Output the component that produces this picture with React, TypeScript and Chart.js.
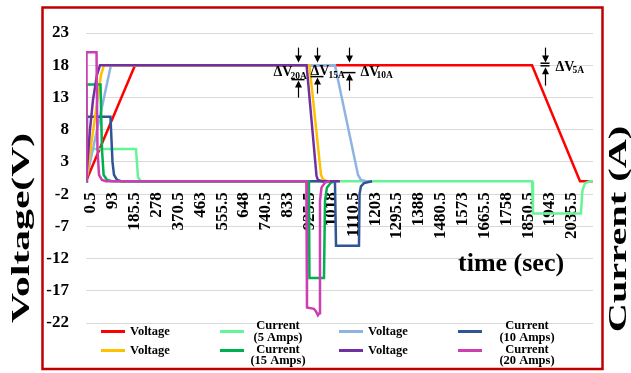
import React, { useEffect, useRef } from "react";
import { Chart, registerables } from "chart.js";

Chart.register(...registerables);

const FONT = "'Liberation Serif', 'Times New Roman', serif";

// ---- axis ticks ----
const xTickValues = [0.5, 93, 185.5, 278, 370.5, 463, 555.5, 648, 740.5, 833, 925.5, 1018, 1110.5, 1203, 1295.5, 1388, 1480.5, 1573, 1665.5, 1758, 1850.5, 1943, 2035.5];
const yTickValues = [23, 18, 13, 8, 3, -2, -7, -12, -17, -22];
const xMin = 0.5;
const xMax = 2146;
const yMin = -22;
const yMax = 23;

// ---- series (time in sec, value) ----
// 5 A test
const voltage5Time = [0.5, 208, 1888, 2091, 2146];
const voltage5Val = [0, 18, 18, 0, 0];
const current5Time = [0.5, 21.7, 212, 220.5, 233, 1888, 1892, 2095, 2101, 2112, 2133, 2146];
const current5Val = [0, 5, 5, 0.6, 0, 0, -5, -5, -1.5, -0.3, 0, 0];
// 10 A test
const voltage10Time = [0.5, 106, 1054, 1151.5, 1164, 1185, 1211];
const voltage10Val = [0, 18, 18, 1, 0.2, 0, 0];
const current10Time = [0.5, 4.7, 104, 112.6, 119, 132, 149, 1054, 1058.5, 1155.7, 1158, 1164, 1177, 1211];
const current10Val = [0, 10, 10, 3, 1, 0.2, 0, 0, -10, -10, -2, -0.8, -0.3, 0];
// 15 A test
const voltage15Time = [0.5, 64, 76.7, 946, 995, 1003.5, 1020.5, 1037.5];
const voltage15Val = [0, 16.5, 18, 18, 1, 0.3, 0, 0];
const current15Time = [0.5, 2.6, 62, 68, 75, 89.4, 110.5, 944, 946, 1007.6, 1012, 1020, 1037, 1058];
const current15Val = [0, 15, 15, 5, 1, 0.2, 0, 0, -15, -15, -3, -1, -0.2, 0];
// 20 A test
const voltage20Time = [0.5, 17.4, 30.1, 47, 59.7, 934, 976, 982, 999, 1075];
const voltage20Val = [0, 8, 12.6, 16.5, 18, 18, 0.8, 0.2, 0, 0];
const current20Time = [0.5, 2.6, 45, 49, 55.5, 68, 85, 933, 935.7, 965, 974, 982, 988, 990.7, 997, 1012, 1033];
const current20Val = [0, 20, 20, 5, 1, 0.2, 0, 0, -19.6, -19.8, -20.2, -20.8, -20.5, -3, -1, -0.2, 0];

// ---- legend labels ----
const legendLabels = [
  ["Voltage"],
  ["Current", "(5 Amps)"],
  ["Voltage"],
  ["Current", "(10 Amps)"],
  ["Voltage"],
  ["Current", "(15 Amps)"],
  ["Voltage"],
  ["Current", "(20 Amps)"],
];

// ---- titles ----
const xTitle = "time (sec)";
const yTitle = "Voltage(V)";
const y2Title = "Current (A)";

// ---- ΔV annotations ----
const annTimes = [897.6, 978, 1113.4, 1942.7];
const annLevel = 18;
const annSubs = ["20A", "15A", "10A", "5A"];

// ---- styles ----
const seriesColors = ["#ff0000", "#66f596", "#8eb4e3", "#2f5597", "#ffc000", "#00b050", "#7030a0", "#cc3fb2"];
const seriesTimes = [voltage5Time, current5Time, voltage10Time, current10Time, voltage15Time, current15Time, voltage20Time, current20Time];
const seriesVals = [voltage5Val, current5Val, voltage10Val, current10Val, voltage15Val, current15Val, voltage20Val, current20Val];

const legendCols = [
  { lineX: 101, textX: 130, align: "left" },
  { lineX: 220, textX: 278, align: "center" },
  { lineX: 339, textX: 368, align: "left" },
  { lineX: 458, textX: 527, align: "center" },
];
const legendRows = [
  { y: 331.5, l1: 326, l2: 337.5 },
  { y: 350.5, l1: 350, l2: 361 },
];

const annStyles = [
  { upBottom: 32.4, upTip: 15.4, bars: [14.4], barL: -7, barR: 6, textDx: -25, textDy: 7.4, subDx: -8, subDy: 11.4 },
  { upBottom: 28.4, upTip: 12.4, bars: [11.4], barL: -7, barR: 6, textDx: -7, textDy: 6.5, subDx: 11, subDy: 10 },
  { upBottom: 25.4, upTip: 8.4, bars: [7.4], barL: -7, barR: 6, textDx: 11, textDy: 7, subDx: 27, subDy: 10.4 },
  { upBottom: 20.4, upTip: 2, bars: [-2, 0.6], barL: -5, barR: 4, textDx: 10, textDy: 2, subDx: 27, subDy: 5.4 },
];

function drawArrow(ctx: CanvasRenderingContext2D, x: number, yFrom: number, yTo: number) {
  const dir = Math.sign(yTo - yFrom);
  ctx.beginPath();
  ctx.moveTo(x, yFrom);
  ctx.lineTo(x, yTo - dir * 5);
  ctx.stroke();
  ctx.beginPath();
  ctx.moveTo(x, yTo);
  ctx.lineTo(x - 3.5, yTo - dir * 7);
  ctx.lineTo(x + 3.5, yTo - dir * 7);
  ctx.closePath();
  ctx.fill();
}

function drawVerticalTitle(ctx: CanvasRenderingContext2D, text: string, cx: number, cy: number, stretch: number) {
  ctx.save();
  ctx.translate(cx, cy);
  ctx.rotate(-Math.PI / 2);
  ctx.scale(stretch, 1);
  ctx.textAlign = "center";
  ctx.textBaseline = "middle";
  ctx.fillText(text, 0, 0);
  ctx.restore();
}

const decorPlugin = {
  id: "decor",
  beforeDraw(chart: any) {
    const ctx = chart.ctx;
    ctx.save();
    ctx.fillStyle = "#ffffff";
    ctx.fillRect(0, 0, chart.width, chart.height);
    ctx.restore();
  },
  afterDatasetsDraw(chart: any) {
    const ctx: CanvasRenderingContext2D = chart.ctx;
    const xs = chart.scales.x;
    const ys = chart.scales.y;
    const py = ys.getPixelForValue(annLevel);
    ctx.save();
    ctx.strokeStyle = "#000";
    ctx.fillStyle = "#000";
    ctx.lineWidth = 1.2;
    annTimes.forEach((t, i) => {
      const st = annStyles[i];
      const px = Math.round(xs.getPixelForValue(t)) + 0.5;
      drawArrow(ctx, px, py - 17.6, py - 2.6);
      drawArrow(ctx, px, py + st.upBottom, py + st.upTip);
      ctx.lineWidth = 1.5;
      st.bars.forEach((b) => {
        ctx.beginPath();
        ctx.moveTo(px + st.barL, py + b);
        ctx.lineTo(px + st.barR, py + b);
        ctx.stroke();
      });
      ctx.lineWidth = 1.2;
      ctx.textAlign = "left";
      ctx.textBaseline = "middle";
      ctx.font = `bold 14px ${FONT}`;
      ctx.fillText("\u0394V", px + st.textDx, py + st.textDy);
      ctx.font = `bold 9.5px ${FONT}`;
      ctx.fillText(annSubs[i], px + st.subDx, py + st.subDy);
    });
    ctx.restore();
  },
  afterDraw(chart: any) {
    const ctx: CanvasRenderingContext2D = chart.ctx;
    ctx.save();
    // legend
    legendLabels.forEach((lab, i) => {
      const col = legendCols[i % 4];
      const row = legendRows[Math.floor(i / 4)];
      ctx.strokeStyle = seriesColors[i];
      ctx.lineWidth = 3;
      ctx.beginPath();
      ctx.moveTo(col.lineX, row.y);
      ctx.lineTo(col.lineX + 24, row.y);
      ctx.stroke();
      ctx.fillStyle = "#000";
      ctx.font = `bold 12.5px ${FONT}`;
      ctx.textBaseline = "middle";
      ctx.textAlign = col.align as CanvasTextAlign;
      if (lab.length === 1) {
        ctx.fillText(lab[0], col.textX, row.y);
      } else {
        ctx.fillText(lab[0], col.textX, row.l1);
        ctx.fillText(lab[1], col.textX, row.l2);
      }
    });
    // titles
    ctx.fillStyle = "#000";
    ctx.font = `bold 26px ${FONT}`;
    ctx.textAlign = "left";
    ctx.textBaseline = "middle";
    ctx.fillText(xTitle, 458, 264);
    drawVerticalTitle(ctx, yTitle, 22, 228, 1.6);
    drawVerticalTitle(ctx, y2Title, 619, 229, 1.55);
    // border
    ctx.strokeStyle = "#c00000";
    ctx.lineWidth = 2.5;
    ctx.strokeRect(42.5, 7.5, 560, 361.5);
    ctx.restore();
  },
};

export default function App() {
  const ref = useRef<HTMLCanvasElement>(null);
  useEffect(() => {
    if (!ref.current) return;
    const n = seriesTimes.length;
    const datasets = seriesTimes.map((ts, i) => ({
      label: legendLabels[i].join(" "),
      data: ts.map((t, j) => ({ x: t, y: seriesVals[i][j] })),
      borderColor: seriesColors[i],
      backgroundColor: seriesColors[i],
      borderWidth: 2.5,
      pointRadius: 0,
      tension: 0,
      fill: false,
      order: n - i,
    }));
    const tickFont = { family: FONT, weight: "bold" as const, size: 17 };
    const chart = new Chart(ref.current, {
      type: "line",
      data: { datasets },
      plugins: [decorPlugin],
      options: {
        animation: false,
        responsive: false,
        maintainAspectRatio: false,
        layout: { padding: { left: 42, right: 38, top: 33, bottom: 50 } },
        plugins: { legend: { display: false }, tooltip: { enabled: false } },
        scales: {
          x: {
            type: "linear",
            position: { y: 0 } as any,
            min: xMin,
            max: xMax,
            afterBuildTicks: (s: any) => {
              s.ticks = xTickValues.map((v) => ({ value: v }));
            },
            grid: { display: false, drawTicks: false },
            border: { display: false },
            ticks: {
              autoSkip: false,
              minRotation: 90,
              maxRotation: 90,
              padding: 11,
              labelOffset: 5,
              color: "#000",
              font: tickFont,
              callback: (v: any) => String(v),
            },
          },
          y: {
            type: "linear",
            min: yMin,
            max: yMax,
            afterBuildTicks: (s: any) => {
              s.ticks = yTickValues.map((v) => ({ value: v }));
            },
            afterFit: (s: any) => {
              s.width = 44;
            },
            grid: { color: "#d9d9d9", lineWidth: 1, drawTicks: false },
            border: { display: false },
            ticks: {
              padding: 17,
              color: "#000",
              font: tickFont,
              callback: (v: any) => String(v),
            },
          },
        },
      },
    });
    return () => chart.destroy();
  }, []);
  return (
    <div style={{ position: "fixed", left: 0, top: 0, width: 631, height: 373, background: "#fff" }}>
      <canvas ref={ref} width={631} height={373} style={{ width: 631, height: 373, display: "block" }} />
    </div>
  );
}
